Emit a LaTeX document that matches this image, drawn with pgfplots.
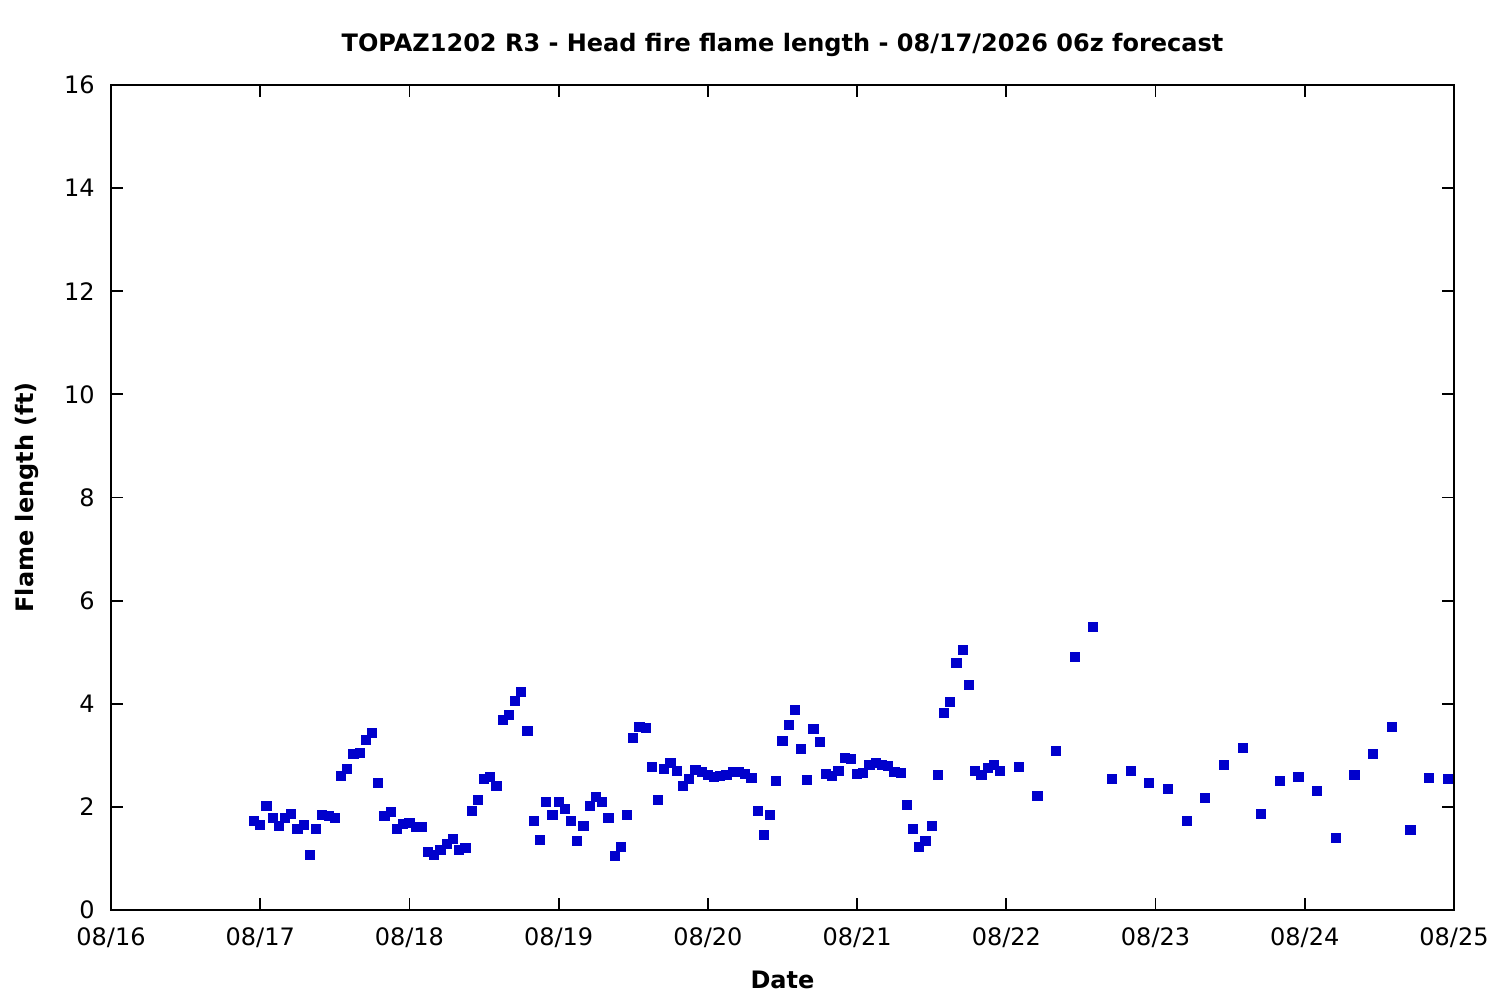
\documentclass[border=0pt]{standalone}
\usepackage{pgfplots}
\pgfplotsset{compat=1.18}
\usepackage{pgfplotstable}
\usepackage{fontspec}
\setmainfont{DejaVu Sans}
\definecolor{markblue}{RGB}{0,0,204}
\pgfplotstableread{
h y
23 1.72
24 1.65
25 2.02
26 1.78
27 1.63
28 1.78
29 1.86
30 1.57
31 1.65
32 1.07
33 1.57
34 1.84
35 1.82
36 1.78
37 2.60
38 2.73
39 3.03
40 3.05
41 3.30
42 3.43
43 2.46
44 1.82
45 1.90
46 1.57
47 1.67
48 1.69
49 1.61
50 1.61
51 1.12
52 1.07
53 1.16
54 1.28
55 1.38
56 1.16
57 1.20
58 1.92
59 2.13
60 2.54
61 2.58
62 2.40
63 3.69
64 3.78
65 4.05
66 4.23
67 3.47
68 1.73
69 1.36
70 2.09
71 1.84
72 2.09
73 1.96
74 1.73
75 1.34
76 1.63
77 2.02
78 2.19
79 2.09
80 1.78
81 1.05
82 1.22
83 1.84
84 3.34
85 3.55
86 3.53
87 2.77
88 2.13
89 2.73
90 2.85
91 2.70
92 2.40
93 2.54
94 2.72
95 2.68
96 2.62
97 2.58
98 2.60
99 2.62
100 2.68
101 2.68
102 2.64
103 2.56
104 1.92
105 1.45
106 1.84
107 2.50
108 3.28
109 3.59
110 3.88
111 3.12
112 2.52
113 3.51
114 3.26
115 2.64
116 2.60
117 2.70
118 2.95
119 2.93
120 2.64
121 2.66
122 2.81
123 2.85
124 2.81
125 2.79
126 2.68
127 2.66
128 2.04
129 1.57
130 1.22
131 1.34
132 1.63
133 2.62
134 3.82
135 4.03
136 4.79
137 5.04
138 4.36
139 2.70
140 2.62
141 2.75
142 2.81
143 2.70
146 2.77
149 2.21
152 3.08
155 4.91
158 5.49
161 2.54
164 2.70
167 2.46
170 2.35
173 1.73
176 2.17
179 2.81
182 3.14
185 1.86
188 2.50
191 2.58
194 2.31
197 1.40
200 2.62
203 3.03
206 3.55
209 1.55
212 2.56
215 2.54
}\flamedata
\begin{document}
\fontsize{12pt}{14pt}\selectfont
\begin{tikzpicture}
\useasboundingbox (0,0) rectangle (750pt,500pt);
\begin{axis}[
  at={(55.5pt,45pt)}, anchor=south west,
  scale only axis, width=671.5pt, height=412.5pt,
  xmin=0, xmax=216, ymin=0, ymax=16,
  xtick={0,24,...,216},
  xticklabels={08/16,08/17,08/18,08/19,08/20,08/21,08/22,08/23,08/24,08/25},
  ytick={0,2,...,16},
  tick align=inside, major tick length=6pt,
  minor tick num=0,
  axis line style={line width=0.9pt},
  every tick/.style={line width=0.9pt, black},
  /pgf/number format/assume math mode=true,
  ticklabel style={font=\fontsize{12pt}{14pt}\selectfont},
  yticklabel style={xshift=-4pt},
  xticklabel style={yshift=-4.5pt},
  every axis title shift=0pt,
  title={\bfseries TOPAZ1202 R3 - Head fire flame length - 08/17/2026 06z forecast},
  title style={at={(axis description cs:0.5,1.0485)}, anchor=center, font=\fontsize{12pt}{14pt}\selectfont},
  xlabel={\bfseries Date},
  xlabel style={at={(axis description cs:0.5,-0.0848)}, anchor=center, font=\fontsize{12pt}{14pt}\selectfont},
  ylabel={\bfseries Flame length (ft)},
  ylabel style={at={(axis description cs:-0.0625,0.5)}, anchor=center, rotate=0, font=\fontsize{12pt}{14pt}\selectfont},
]
\addplot[only marks, mark=square*, mark size=2.3pt, mark options={draw=markblue, fill=markblue, line width=0pt}] table[x=h, y=y] {\flamedata};
\end{axis}
\end{tikzpicture}
\end{document}
